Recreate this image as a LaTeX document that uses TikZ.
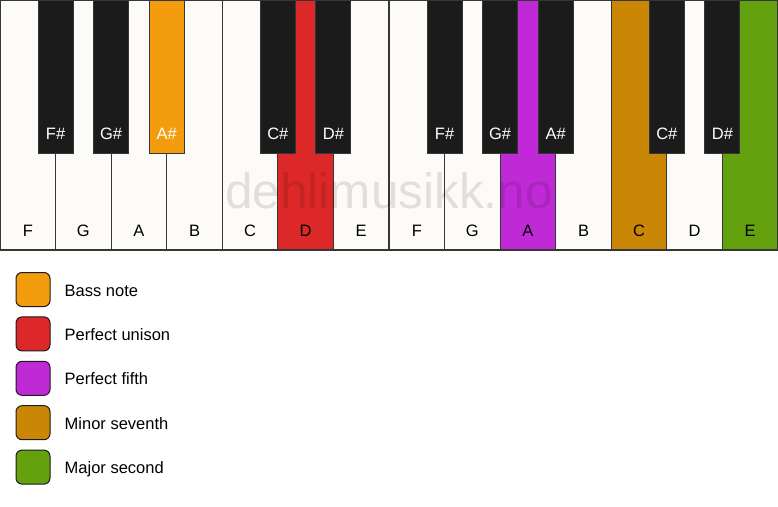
\documentclass[tikz,border=0pt]{standalone}
\usepackage{fontspec}
\setmainfont{Liberation Sans}
\usetikzlibrary{positioning}

\definecolor{ivory}{HTML}{FCFBF8}
\definecolor{ebony}{HTML}{1B1B1B}
\definecolor{keyline}{HTML}{363636}
\definecolor{bassnote}{HTML}{F39C0E}
\definecolor{unison}{HTML}{DC2828}
\definecolor{fifth}{HTML}{C02AD6}
\definecolor{minorseventh}{HTML}{C98705}
\definecolor{majorsecond}{HTML}{63A10F}

\tikzset{
  keytext/.style={inner sep=0pt, font=\fontsize{16.5}{19}\selectfont},
  whitekey/.style={draw=keyline, line width=1.2pt, fill=ivory, inner sep=0pt, outer sep=0pt,
    minimum width=55.571pt, minimum height=250pt,
    label={[keytext, anchor=base, yshift=14pt]south:#1}},
  blackkey/.style={draw=keyline, line width=1pt, fill=ebony, inner sep=0pt, outer sep=0pt,
    minimum width=35pt, minimum height=153pt,
    label={[keytext, text=white, anchor=base, yshift=14pt]south:#1}},
  legendbox/.style={draw=ebony, line width=1pt, rounded corners=6pt, inner sep=0pt,
    minimum size=34pt,
    label={[keytext, anchor=base west, xshift=14pt, yshift=-6.5pt]east:#1}},
  watermark/.style={inner sep=0pt, text=black, text opacity=0.11,
    font=\fontsize{49.5}{55}\selectfont}
}

\begin{document}
\begin{tikzpicture}[x=1pt, y=1pt]
  \useasboundingbox (0,0) rectangle (778,-506);

  % white keys
  \node [whitekey=F] (F1) at (27.79,-125) {};
  \node [whitekey=G] (G1) at (83.36,-125) {};
  \node [whitekey=A] (A1) at (138.93,-125) {};
  \node [whitekey=B] (B1) at (194.50,-125) {};
  \node [whitekey=C] (C1) at (250.07,-125) {};
  \node [whitekey=D, fill=unison] (D1) at (305.64,-125) {};
  \node [whitekey=E] (E1) at (361.21,-125) {};
  \node [whitekey=F] (F2) at (416.79,-125) {};
  \node [whitekey=G] (G2) at (472.36,-125) {};
  \node [whitekey=A, fill=fifth] (A2) at (527.93,-125) {};
  \node [whitekey=B] (B2) at (583.50,-125) {};
  \node [whitekey=C, fill=minorseventh] (C2) at (639.07,-125) {};
  \node [whitekey=D] (D2) at (694.64,-125) {};
  \node [whitekey=E, fill=majorsecond] (E2) at (750.21,-125) {};

  \node [watermark, anchor=base] (mark) at (389,-208) {dehlimusikk.no};

  % black keys
  \node [blackkey=F\#] (Fs1) at (55.57,-76.5) {};
  \node [blackkey=G\#] (Gs1) at (111.14,-76.5) {};
  \node [blackkey=A\#, fill=bassnote] (As1) at (166.71,-76.5) {};
  \node [blackkey=C\#] (Cs1) at (277.86,-76.5) {};
  \node [blackkey=D\#] (Ds1) at (333.43,-76.5) {};
  \node [blackkey=F\#] (Fs2) at (444.57,-76.5) {};
  \node [blackkey=G\#] (Gs2) at (500.14,-76.5) {};
  \node [blackkey=A\#] (As2) at (555.71,-76.5) {};
  \node [blackkey=C\#] (Cs2) at (666.86,-76.5) {};
  \node [blackkey=D\#] (Ds2) at (722.43,-76.5) {};

  % legend
  \node [legendbox=Bass note, fill=bassnote] (bass) at (33,-289.5) {};
  \node [legendbox=Perfect unison, fill=unison, below=9.4pt of bass] (unisonbox) {};
  \node [legendbox=Perfect fifth, fill=fifth, below=9.4pt of unisonbox] (fifthbox) {};
  \node [legendbox=Minor seventh, fill=minorseventh, below=9.4pt of fifthbox] (seventhbox) {};
  \node [legendbox=Major second, fill=majorsecond, below=9.4pt of seventhbox] (secondbox) {};
\end{tikzpicture}
\end{document}
